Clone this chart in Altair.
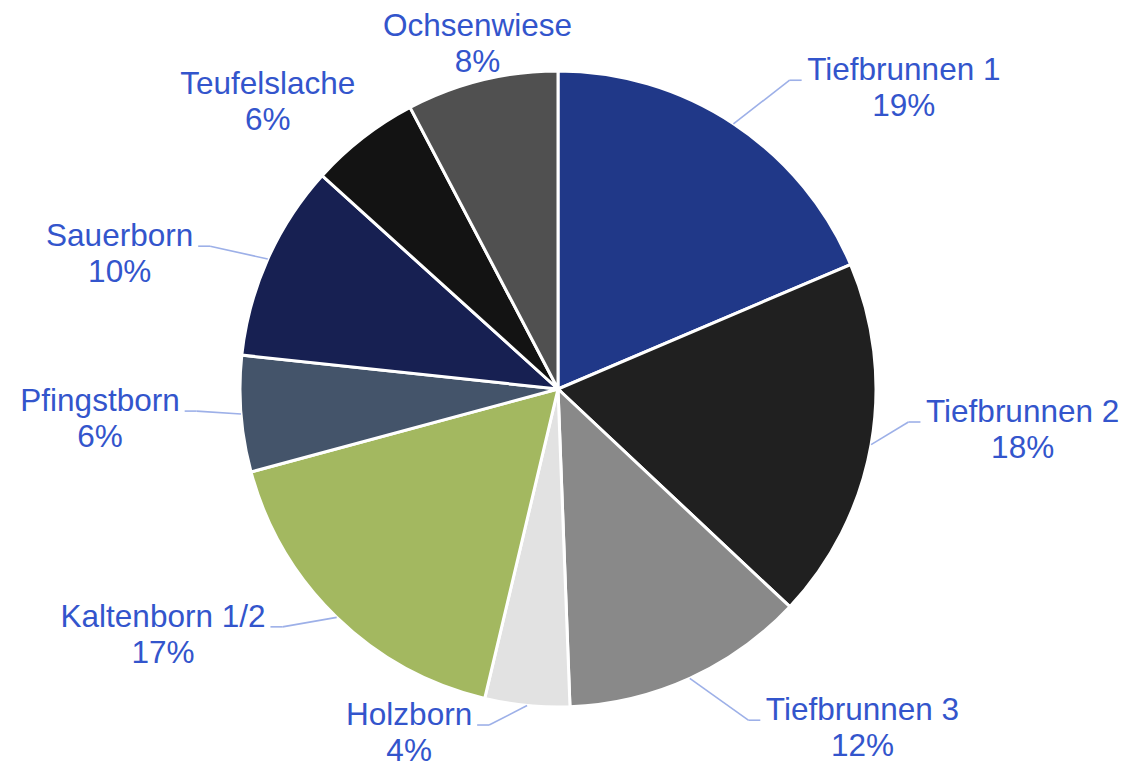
import math
import altair as alt
import pandas as pd

# ---------------- data ----------------
names = ["Tiefbrunnen 1", "Tiefbrunnen 2", "Tiefbrunnen 3", "Holzborn",
         "Kaltenborn 1/2", "Pfingstborn", "Sauerborn", "Teufelslache", "Ochsenwiese"]
shares = [18.6, 18.4, 12.4, 4.3, 17.1, 5.9, 10.0, 5.6, 7.7]
colors = ["#203888", "#202020", "#898989", "#E2E2E2", "#A3B860",
          "#44546A", "#172052", "#131313", "#505050"]

# ---------------- label layout (Excel "best fit" placement) ----------------
label_nudge = [3.4, -4.7, -5.4, 6.0, 5.1, 1.0, -1.8, 5.9, 18.9]   # degrees from slice middle
label_dist = [386, 352, 382, 343, 364, 362, 376, 348, 354]       # px from pie centre
has_leader = [True, True, True, True, True, True, True, False, False]

W, H = 1111, 760
CX, CY = 550, 381
R = 318
FS = 31.5
TEXT_COLOR = "#3355CC"
LEADER_COLOR = "#9DB0E8"

# Arial / Liberation Sans advance widths (per 1000 em) for label measuring
ADV = {"T": 611, "i": 222, "e": 556, "f": 278, "b": 556, "r": 333, "u": 556, "n": 556,
       " ": 278, "1": 556, "2": 556, "3": 556, "H": 722, "o": 556, "l": 222, "z": 500,
       "K": 667, "a": 556, "t": 278, "/": 278, "P": 667, "g": 556, "s": 500, "S": 667,
       "c": 500, "h": 556, "O": 778, "w": 722}


def text_width(s):
    return sum(ADV.get(ch, 556) for ch in s) / 1000.0 * FS


total = sum(shares)
slices, labels, leaders = [], [], []
cum = 0.0
for i, (n, v) in enumerate(zip(names, shares)):
    mid = (cum + v / 2) / total * 360.0
    cum += v
    slices.append({"idx": i, "name": n, "value": v})
    side = 1 if math.sin(math.radians(mid)) > 0 else -1
    a = math.radians(mid + label_nudge[i])
    ex = CX + label_dist[i] * math.sin(a)
    ey = CY - label_dist[i] * math.cos(a)
    lx = ex + side * (17 + text_width(n) / 2)
    labels.append({"name": n, "lx": lx, "ly": ey, "label": f"{n}\n{round(v):.0f}%"})
    if has_leader[i]:
        sx = CX + R * math.sin(math.radians(mid))
        sy = CY - R * math.cos(math.radians(mid))
        leaders.append({"x": sx, "y": sy, "x2": ex, "y2": ey})
        leaders.append({"x": ex, "y": ey, "x2": ex + side * 12, "y2": ey})

df = pd.DataFrame(slices)
lab_df = pd.DataFrame(labels)
lead_df = pd.DataFrame(leaders)

pie = alt.Chart(df).mark_arc(outerRadius=R, stroke="white", strokeWidth=3).encode(
    theta=alt.Theta("value:Q", stack=True),
    order=alt.Order("idx:Q", sort="ascending"),
    color=alt.Color("name:N", scale=alt.Scale(domain=names, range=colors), legend=None),
    x=alt.value(CX),
    y=alt.value(CY),
)

lead = alt.Chart(lead_df).mark_rule(color=LEADER_COLOR, strokeWidth=1.6).encode(
    x=alt.X("x:Q", scale=None, axis=None),
    y=alt.Y("y:Q", scale=None, axis=None),
    x2="x2:Q",
    y2="y2:Q",
)

text = alt.Chart(lab_df).mark_text(
    align="center", baseline="alphabetic", lineBreak="\n",
    fontSize=FS, font="Liberation Sans", color=TEXT_COLOR, lineHeight=36,
).encode(
    x=alt.X("lx:Q", scale=None, axis=None),
    y=alt.Y("ly:Q", scale=None, axis=None),
    text="label:N",
)

chart = alt.layer(pie, lead, text).properties(
    width=W, height=H, padding=0, autosize=alt.AutoSizeParams(type="none")
).configure_view(stroke=None)

chart.save("out.html", embed_options={"renderer": "svg", "actions": False})
